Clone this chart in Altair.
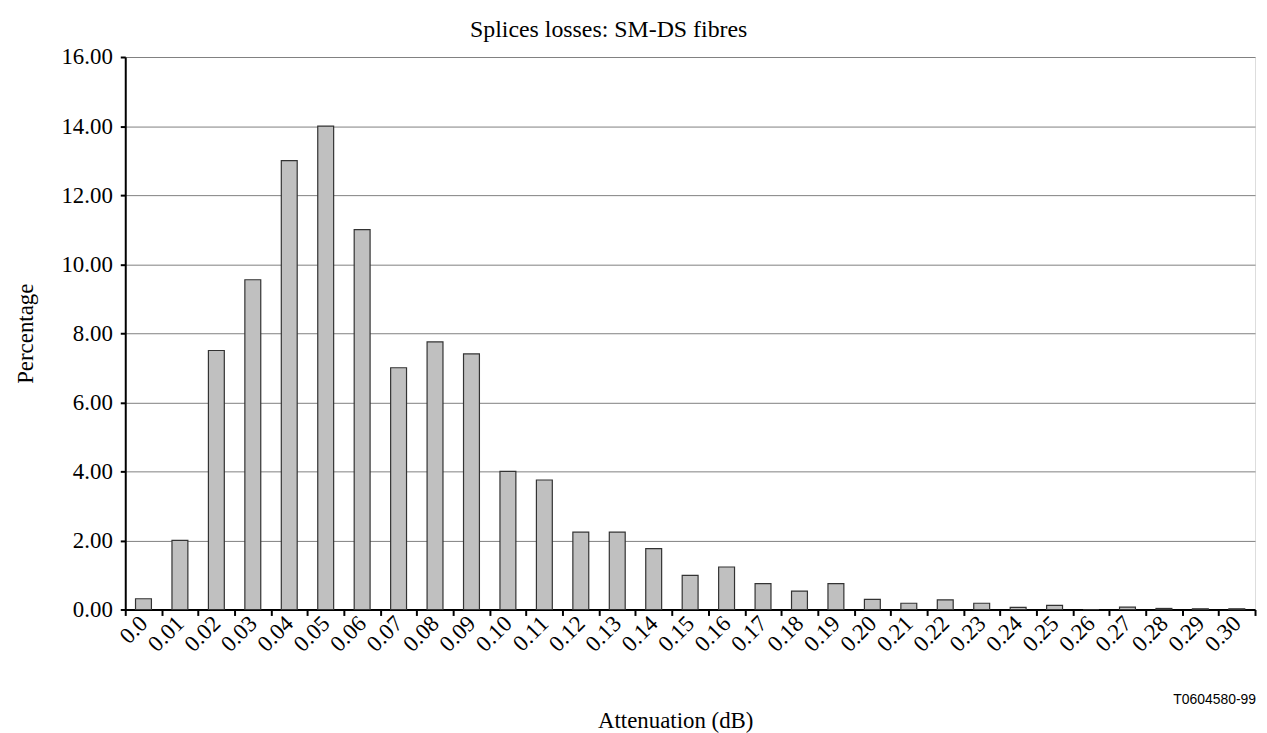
import altair as alt
import pandas as pd

categories = ["0.0", "0.01", "0.02", "0.03", "0.04", "0.05", "0.06", "0.07", "0.08", "0.09",
              "0.10", "0.11", "0.12", "0.13", "0.14", "0.15", "0.16", "0.17", "0.18", "0.19",
              "0.20", "0.21", "0.22", "0.23", "0.24", "0.25", "0.26", "0.27", "0.28", "0.29", "0.30"]
percentages = [0.31, 2.00, 7.50, 9.55, 13.00, 14.00, 11.00, 7.00, 7.75, 7.40,
               4.00, 3.75, 2.24, 2.24, 1.76, 0.99, 1.23, 0.75, 0.53, 0.75,
               0.29, 0.18, 0.28, 0.18, 0.06, 0.12, 0.00, 0.07, 0.03, 0.02, 0.02]
y_ticks = [0, 2, 4, 6, 8, 10, 12, 14, 16]
note = ["T0604580-99"]

df = pd.DataFrame({"cat": categories, "pct": percentages})
note_df = pd.DataFrame({"t": note})

SERIF = "Liberation Serif"

bars = alt.Chart(df).mark_bar(
    size=16, fill="#c0c0c0", stroke="#333333", strokeWidth=1.2
).encode(
    x=alt.X(
        "cat:N", sort=categories,
        scale=alt.Scale(paddingInner=0, paddingOuter=0),
        axis=alt.Axis(
            title="Attenuation (dB)",
            titleFont=SERIF, titleFontSize=23, titleFontWeight="normal", titleColor="black",
            titleX=553.5, titleY=119, titleBaseline="alphabetic", titleAlign="center",
            labelFont=SERIF, labelFontSize=23, labelColor="black",
            labelAngle=-45, labelAlign="right", labelBaseline="middle", labelPadding=4,
            tickBand="extent", tickColor="black", tickSize=6, tickWidth=2,
            domainColor="black", domainWidth=2, grid=False,
        ),
    ),
    y=alt.Y(
        "pct:Q",
        scale=alt.Scale(domain=[0, 16], nice=False),
        axis=alt.Axis(
            title="Percentage", values=y_ticks, format=".2f",
            titleFont=SERIF, titleFontSize=23, titleFontWeight="normal", titleColor="black",
            titleX=-93, titleY=278, titleBaseline="alphabetic", titleAlign="center", titleAngle=270,
            labelFont=SERIF, labelFontSize=23, labelColor="black", labelPadding=8,
            tickColor="black", tickSize=5, tickWidth=2,
            domainColor="black", domainWidth=2,
            grid=True, gridColor="#808080", gridWidth=1,
        ),
    ),
)

label = alt.Chart(note_df).mark_text(
    font="Liberation Sans", fontSize=14, align="right", baseline="alphabetic", color="black"
).encode(text="t:N", x=alt.value(1138), y=alt.value(651))

chart = alt.layer(bars, label).properties(
    width=1137, height=556,
    title=alt.TitleParams(
        "Splices losses: SM-DS fibres", font=SERIF, fontSize=24, fontWeight="normal",
        color="black", anchor="middle", dx=-82, dy=27, offset=12, baseline="alphabetic",
    ),
    autosize=alt.AutoSizeParams(type="none"),
    padding={"left": 118, "top": 47, "right": 4, "bottom": 125},
).configure_view(stroke="#808080", strokeWidth=1).configure(background="white")

chart.save("out.html", embed_options={"renderer": "svg", "actions": False})
